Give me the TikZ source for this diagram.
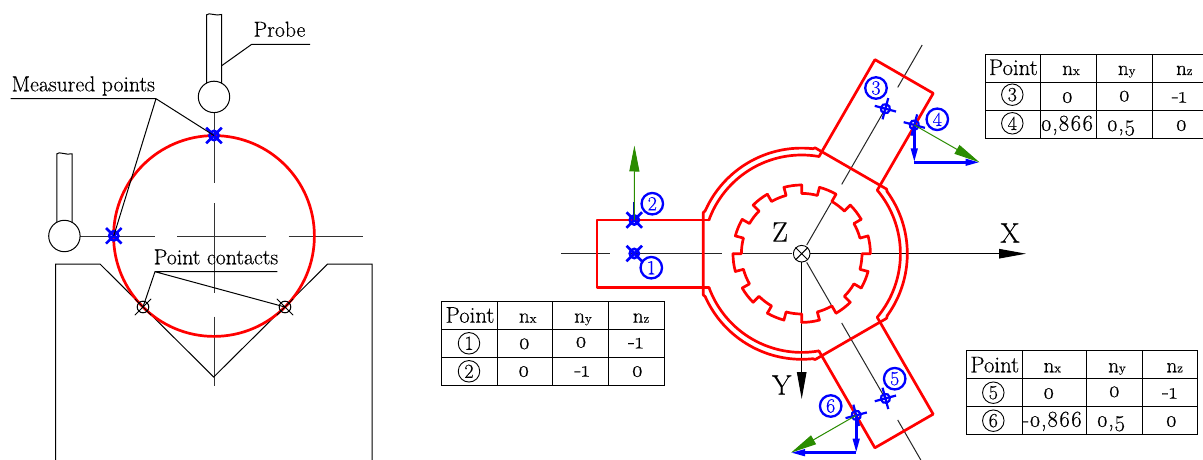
\documentclass[tikz,border=0pt]{standalone}
\usepackage{fontspec}
\setmainfont{Latin Modern Roman}[Numbers=OldStyle,FakeBold=0.35]
\newfontfamily\lnumf{Latin Modern Roman}[Numbers=Lining,FakeBold=0.35]
\usetikzlibrary{arrows.meta}
\definecolor{grn}{HTML}{2A8C00}
\newcommand{\fz}[1]{\fontsize{#1}{#1}\selectfont}
\newcommand{\nn}[1]{{\fz{21}n}{\fz{13}#1}}
\def\bmw{2.6pt}
\tikzset{
  thin line/.style={draw=black,line width=1pt},
  cl/.style={draw=black!80,line width=1pt},
  redl/.style={draw=red,line width=2.7pt,line join=round,line cap=round},
  bluem/.style={draw=blue,line width=\bmw},
  blk/.style={draw=black,line width=1pt},
  tx/.style={anchor=base,inner sep=0pt,font=\fz{22.7}},
  big/.style={inner sep=0pt,font=\fz{28}},
  lead/.style={anchor=base,inner sep=0pt,font=\fz{21.7}},
  tc/.style={circle,draw=black,line width=0.9pt,minimum size=21.5pt,inner sep=0pt,font=\lnumf\fz{20}},
  bc/.style={circle,draw=blue,text=blue,line width=2.3pt,minimum size=21.5pt,inner sep=0pt,font=\lnumf\fz{20}},
  ball/.style={circle,draw=black,line width=1pt,minimum size=31.4pt,inner sep=0pt,fill=white},
  cen/.style={circle,draw=black,line width=0.9pt,minimum size=16.6pt,inner sep=0pt},
  blueax/.style={draw=blue,line width=2.6pt,-{Triangle[length=14pt,width=6.5pt]}},
  grnax/.style={draw=grn,line width=1pt,-{Triangle[length=26pt,width=10pt]}},
  axis/.style={draw=black,line width=1pt,-{Triangle[length=27pt,width=9.5pt]}},
}
\newcommand{\bmark}[4]{\coordinate (#1) at (#2,#3);
  \begin{scope}[shift={(#1)},rotate=#4]
  \draw[bluem] (0,0) circle[radius=4.6];
  \draw[bluem] (-11,0) -- (11,0) (0,-11) -- (0,11);
  \end{scope}}
\newcommand{\kmark}[3]{\coordinate (#1) at (#2,#3);
  \begin{scope}[shift={(#1)},rotate=45]
  \draw[blk] (0,0) circle[radius=5.8];
  \draw[blk] (-11.5,0) -- (11.5,0) (0,-11.5) -- (0,11.5);
  \end{scope}}
\newcommand{\cell}[4]{\node[tx] (#1) at (#2,#3) {#4};}
\begin{document}
\begin{tikzpicture}[x=1pt,y=-1pt]
\useasboundingbox (0,0) rectangle (1203,460);
\clip (0,0) rectangle (1203,460);
\fill[white] (0,0) rectangle (1203,460);
% ------- left figure
\coordinate (vc) at (214,236);
\draw[cl] (214,112.7) -- (214,183) (214,203.3) -- (214,293.3) (214,316.7) -- (214,385.7);
\draw[cl] (80,236) -- (155,236) (177,236) -- (266,236) (288.7,236) -- (363.3,236);
\draw[thin line] (55.7,460) -- (55.7,264) -- (100,264) -- (213.7,377) -- (327.7,264) -- (372,264) -- (372,460);
\draw[redl] (vc) circle[radius=100.4];
% probes
\draw[thin line] (206.6,84) -- (206.6,14.8) .. controls (209,12) and (216,16.5) .. (221.7,14.5) -- (221.7,84);
\node[ball] (pb1) at (214,96.9) {};
\draw[thin line] (56.9,223) -- (56.9,153.8) .. controls (59,151) and (66,155.5) .. (72.2,153.8) -- (72.2,223);
\node[ball] (pb2) at (64.4,236) {};
% markers
\bmark{m1}{214}{135.5}{45}
\bmark{m2}{113.8}{235.8}{45}
\kmark{k1}{143}{307}
\kmark{k2}{285}{307}
% labels
\node[lead] (lprobe) at (279.5,36.7) {Probe};
\coordinate (pr0) at (221.7,65.7);
\coordinate (pr1) at (251.7,44.3);
\coordinate (pr2) at (310,44.3);
\draw[blk] (pr0) -- (pr1) -- (pr2);
\node[lead] (lmeas) at (83.3,91.3) {Measured points};
\coordinate (me0) at (10.7,98.7);
\coordinate (me1) at (156,98.7);
\draw[blk] (me0) -- (me1) -- (m1) (me1) -- (m2);
\node[lead] (lcont) at (216,264.3) {Point contacts};
\coordinate (pc0) at (277.3,271.7);
\coordinate (pc1) at (155,271.7);
\draw[blk] (pc0) -- (pc1) -- (k1) (pc1) -- (k2);
% ------- right figure
\node[cen] (c) at (801.7,253.7) {};
\draw[blk] (c.45) -- (c.225) (c.135) -- (c.315);
\foreach \a in {0,120,240}{
\begin{scope}[rotate around={\a:(801.7,253.7)}]
  \draw[blk,draw=black!85] (791.7,253.7) -- (742.7,253.7) (721.7,253.7) -- (629.7,253.7) (609.7,253.7) -- (560.7,253.7);
\end{scope}}
\draw[axis] (c.east) -- (1026,253.7) coordinate (xt);
\draw[axis] (c.south) -- (801.7,399) coordinate (yt);
\foreach \a in {0,120,240}{
\begin{scope}[rotate around={\a:(801.7,253.7)}]
  \draw[redl] (709,220) -- (597,220) -- (597,287.3) -- (709,287.3);
  \draw[redl] (705,211) -- (703.3,212.5) -- (703.3,295) -- (705,296.4);
  \draw[redl,smooth] plot[domain=203.8:276.2,samples=50] ({801.7+105.6*cos(\x)},{253.7+105.6*sin(\x)});
  \draw[redl,smooth] plot[domain=200:280,samples=50] ({801.7+98.7*cos(\x)},{253.7+98.7*sin(\x)});
\end{scope}
}
% spline
\foreach \t in {0,30,...,330}{
  \draw[redl] plot[domain=\t:\t+15,samples=5] ({801.7+68.7*cos(\x)},{253.7-68.7*sin(\x)})
   -- ({801.7+60.3*cos(\t+15)},{253.7-60.3*sin(\t+15)})
   -- plot[domain=\t+15:\t+30,samples=5] ({801.7+60.3*cos(\x)},{253.7-60.3*sin(\x)})
   -- ({801.7+68.7*cos(\t+30)},{253.7-68.7*sin(\t+30)});
}
% markers on arms
\coordinate (a2) at (634.3,201.7);
\coordinate (g2) at (634.4,145.5);
\draw[draw=blue!75!black,line width=1.7pt] (634.3,220) -- (a2);
\coordinate (p2c) at (634.3,220);
\bmark{p1}{634.3}{253.5}{45}
\bmark{p2}{634.3}{220}{45}
\draw[grnax] (p2c) -- (g2);
\def\bmw{2.2pt}
\bmark{p3}{885.4}{108.7}{-15}
\bmark{p4}{914.3}{125}{-15}
\bmark{p5}{885.4}{398.4}{15}
\bmark{p6}{856.2}{415.3}{15}
% normals 4 and 6
\coordinate (c4) at (914.3,162.3);
\coordinate (t4) at (979.5,162.3);
\draw[blueax] (p4) -- (c4);
\draw[blueax] (c4) -- (t4);
\draw[grnax] (p4) -- (t4);
\coordinate (c6) at (856.2,452.7);
\coordinate (t6) at (791,452.7);
\draw[blueax] (p6) -- (c6);
\draw[grnax] (p6) -- (t6);
\draw[blueax] (c6) -- (t6);
% circled labels
\node[bc] (b1) at (651.3,267.7) {1};
\node[bc] (b2) at (652.3,203.7) {2};
\node[bc] (b3) at (876,88) {3};
\node[bc] (b4) at (937.3,119.3) {4};
\node[bc] (b5) at (894.7,378.7) {5};
\node[bc] (b6) at (830.7,406) {6};
% axis names
\node[big] (lz) at (780,232) {Z};
\node[big] (lx) at (1010,233) {X};
\node[big] (ly) at (781.7,385) {Y};
% tables
\draw[blk] (441.3,301.7) rectangle (664.3,385.7);
\draw[blk] (441.3,329.7) -- (664.3,329.7) (441.3,357.7) -- (664.3,357.7) (497.3,301.7) -- (497.3,385.7) (552.7,301.7) -- (552.7,385.7) (608.7,301.7) -- (608.7,385.7);
\cell{t1h0}{470}{322.7}{Point}
\cell{t1h1}{527.7}{322.7}{\nn{x}}
\cell{t1h2}{583}{322.7}{\nn{y}}
\cell{t1h3}{641}{322.7}{\nn{z}}
\node[tc] (t1a) at (469,343.3) {1};
\node[tc] (t1b) at (469,371.3) {2};
\cell{t1a1}{524.3}{349}{0}
\cell{t1a2}{581}{347.5}{0}
\cell{t1a3}{635.7}{348.5}{-1}
\cell{t1b1}{523.7}{376.7}{0}
\cell{t1b2}{582}{376.7}{-1}
\cell{t1b3}{637.3}{376.7}{0}
%
\draw[blk] (985,54.7) rectangle (1210,138.3);
\draw[blk] (985,82.3) -- (1210,82.3) (985,110.3) -- (1210,110.3) (1040.7,54.7) -- (1040.7,138.3) (1096.3,54.7) -- (1096.3,138.3) (1152,54.7) -- (1152,138.3);
\cell{t2h0}{1013.3}{75}{Point}
\cell{t2h1}{1071}{75}{\nn{x}}
\cell{t2h2}{1126.7}{75}{\nn{y}}
\cell{t2h3}{1184.3}{75}{\nn{z}}
\node[tc] (t2a) at (1012.3,94.7) {3};
\node[tc] (t2b) at (1012.3,123.3) {4};
\cell{t2a1}{1067.3}{102.7}{0}
\cell{t2a2}{1124.3}{101.3}{0}
\cell{t2a3}{1179.3}{102.7}{-1}
\cell{t2b1}{1067}{130.7}{0,866}
\cell{t2b2}{1121}{131}{0,5}
\cell{t2b3}{1181.3}{130.7}{0}
%
\draw[blk] (966.3,350.7) rectangle (1197.7,434.3);
\draw[blk] (966.3,378.7) -- (1197.7,378.7) (966.3,406.7) -- (1197.7,406.7) (1022,350.7) -- (1022,434.3) (1086.7,350.7) -- (1086.7,434.3) (1142.3,350.7) -- (1142.3,434.3);
\cell{t3h0}{994.7}{372.3}{Point}
\cell{t3h1}{1052.3}{372.3}{\nn{x}}
\cell{t3h2}{1117}{372.3}{\nn{y}}
\cell{t3h3}{1174.7}{372.3}{\nn{z}}
\node[tc] (t3a) at (993.3,392.7) {5};
\node[tc] (t3b) at (993.3,420.7) {6};
\cell{t3a1}{1048.7}{398.7}{0}
\cell{t3a2}{1114.3}{397}{0}
\cell{t3a3}{1169.7}{398.7}{-1}
\cell{t3b1}{1052.3}{426.7}{-0,866}
\cell{t3b2}{1111}{426.7}{0,5}
\cell{t3b3}{1171.3}{426.7}{0}
\end{tikzpicture}
\end{document}
